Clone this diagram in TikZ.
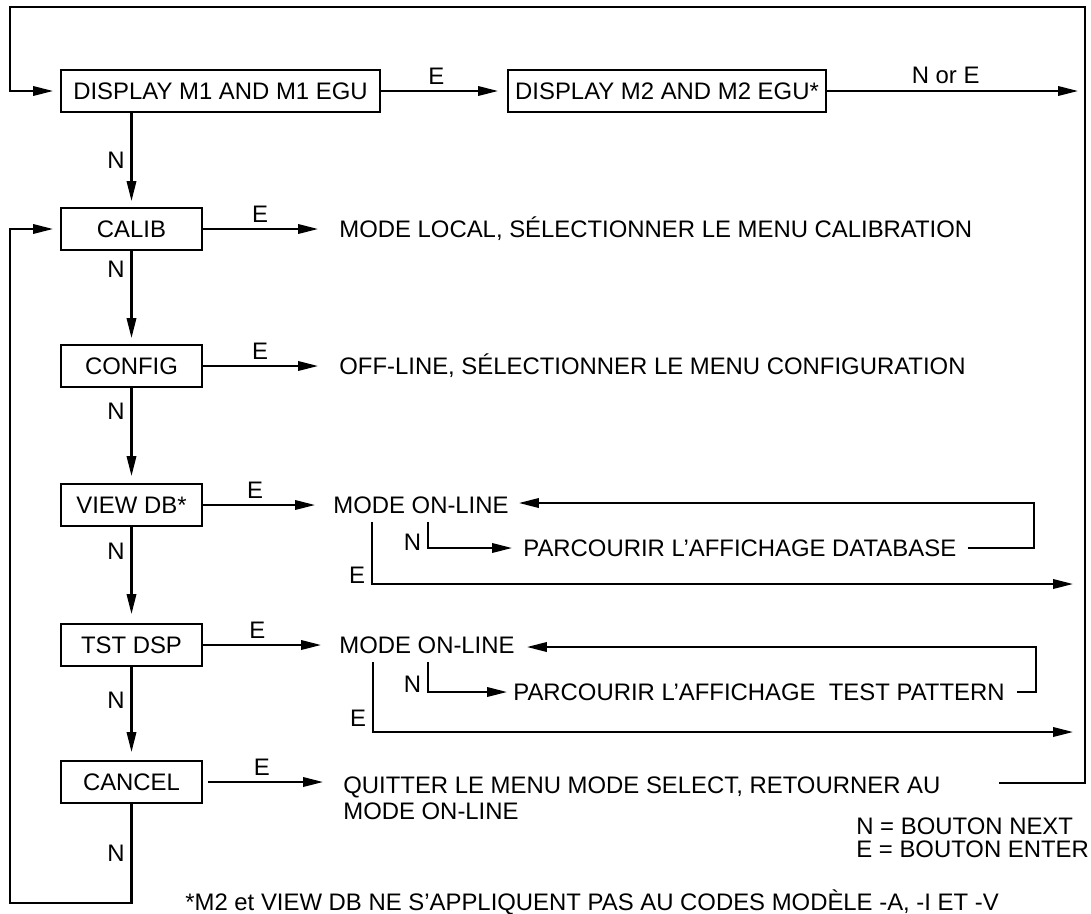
\documentclass[tikz,border=0pt]{standalone}
\usepackage{fontspec}
\setmainfont{Liberation Sans}
\usetikzlibrary{positioning,arrows.meta}
\definecolor{inkline}{RGB}{0,0,0}

\tikzset{
  menubox/.style={draw=inkline,line width=1.15pt,inner sep=0pt,minimum height=0.84cm},
  colbox/.style={menubox,minimum width=2.82cm},
  msg/.style={anchor=west,inner xsep=0pt,inner ysep=0.16cm,text=inkline},
  link/.style={draw=inkline,line width=1.15pt,-{Triangle[length=0.4cm,width=0.19cm]}},
}

\begin{document}
\begin{tikzpicture}[x=0.02cm,y=-0.02cm,font=\fontsize{13.6}{15.5}\selectfont]
  \useasboundingbox (0,0) rectangle (1091,913);
  % display row
  \node[menubox,minimum width=6.38cm] (m1) at (220.5,91) {DISPLAY M1 AND M1 EGU};
  \node[menubox,minimum width=6.36cm] (m2) at (667,91) {DISPLAY M2 AND M2 EGU*};
  % menu column
  \node[colbox] (calib)  at (131.5,229) {CALIB};
  \node[colbox] (config) at (131.5,366) {CONFIG};
  \node[colbox] (viewdb) at (131.5,505) {VIEW DB*};
  \node[colbox] (tstdsp) at (131.5,645) {TST DSP};
  \node[colbox] (cancel) at (131.5,782) {CANCEL};
  % messages
  \node[msg] (lcal) at (339,229) {MODE LOCAL, SÉLECTIONNER LE MENU CALIBRATION};
  \node[msg] (lcfg) at (339,366) {OFF-LINE, SÉLECTIONNER LE MENU CONFIGURATION};
  \node[msg] (on1) at (333,505) {MODE ON-LINE};
  \node[msg] (pc1) at (523,548) {PARCOURIR L’AFFICHAGE DATABASE};
  \node[msg] (on2) at (339,645) {MODE ON-LINE};
  \node[msg] (pc2) at (513,692) {PARCOURIR L’AFFICHAGE\ \ TEST PATTERN};
  \node[msg] (q1) at (343,787) {QUITTER LE MENU MODE SELECT, RETOURNER AU};
  \node[msg] (q2) at (343,811) {MODE ON-LINE};
  \node[msg,align=left,inner ysep=0pt,font=\fontsize{13.6}{13}\selectfont] (keys) at (856,838)
    {N = BOUTON NEXT\\E = BOUTON ENTER};
  \node[msg] (foot) at (185,902) {*M2 et VIEW DB NE S’APPLIQUENT PAS AU CODES MODÈLE -A, -I ET -V};
  % loop corners
  \coordinate (rtop) at (1085,7);
  \coordinate (ltop) at (10,7);
  \coordinate (lbot) at (10,903);
  \coordinate (qx) at (999,783);
  \coordinate (db) at (1034,503);
  \coordinate (tp) at (1036,647);
  \coordinate (dbe) at (1085,584);
  \coordinate (tpe) at (1085,732);

  \draw[link,shorten >=0.18cm] (m1) -- node[above,pos=0.44]{E} (m2);
  \draw[link,shorten >=0.14cm] (m2.east) -- node[above,pos=0.46]{N or E} (m2.east -| rtop);
  \draw[link,shorten >=0.12cm] (m1.south -| calib) -- node[left]{N} (calib);
  \draw[link,shorten >=0.12cm] (calib) -- node[left,pos=0.2]{N} (config);
  \draw[link,shorten >=0.14cm] (config) -- node[left,pos=0.24]{N} (viewdb);
  \draw[link,shorten >=0.18cm] (viewdb) -- node[left,pos=0.25]{N} (tstdsp);
  \draw[link,shorten >=0.16cm] (tstdsp) -- node[left,pos=0.36]{N} (cancel);

  \draw[link,shorten >=0.42cm] (calib) -- node[above,pos=0.42]{E} (lcal);
  \draw[link,shorten >=0.42cm] (config) -- node[above,pos=0.42]{E} (lcfg);
  \draw[link,shorten >=0.36cm] (viewdb) -- node[above,pos=0.4]{E} (on1);
  \draw[link,shorten >=0.36cm] (tstdsp) -- node[above,pos=0.4]{E} (on2);
  \draw[link,shorten <=0.1cm,shorten >=0.4cm] (cancel.east) -- node[above,pos=0.42]{E} (cancel.east -| q1.west);

  \draw[link,shorten >=0.22cm] ([xshift=1.9cm]on1.south west) |- node[left,pos=0.39]{N} (pc1.west);
  \draw[link,shorten >=0.24cm] ([xshift=0.78cm]on1.south west) |- node[left,pos=0.43]{E} (dbe);
  \draw[link,shorten <=0.22cm,shorten >=0.2cm] (pc1.east) -| (db) -- (db -| on1.east);

  \draw[link,shorten >=0.12cm] ([xshift=1.78cm]on2.south west) |- node[left,pos=0.37]{N} (pc2.west);
  \draw[link,shorten >=0.24cm] ([xshift=0.68cm]on2.south west) |- node[left,pos=0.4]{E} (tpe);
  \draw[link,shorten <=0.24cm,shorten >=0.24cm] (pc2.east) -| (tp) -- (tp -| on2.east);

  \draw[link,shorten >=0.14cm] (qx) -| (rtop) -- (ltop) |- (m1.west);
  \draw[link,shorten >=0.14cm] (cancel.south) |- node[left,pos=0.25]{N} (lbot) |- (calib.west);
\end{tikzpicture}
\end{document}
